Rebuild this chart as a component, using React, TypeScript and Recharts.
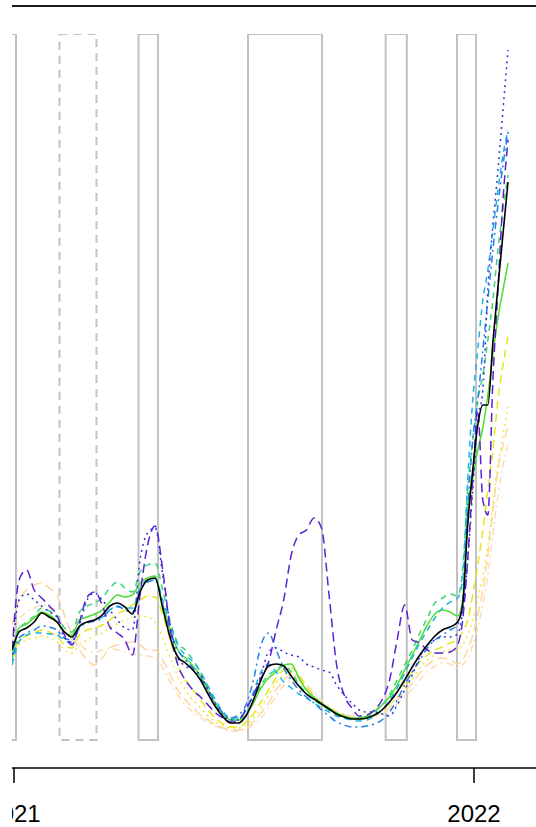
import React from 'react';
import { LineChart, Line, XAxis, YAxis, ReferenceArea } from 'recharts';

// day index counted from 2021-01-01
const days = [-1.5,4,10,16,22,28,34,40,46,52,58,64,70,76,82,88,94,100,106,112,118,124,130,136,142,148,154,160,166,172,178,184,190,196,202,208,214,220,226,232,238,244,250,256,262,268,274,280,286,292,298,304,310,316,322,328,334,340,346,352,356,360,364,368,372,376,380,384,388,392];

const tickDays = [0, 365];
const tickLabels = ['2021', '2022'];

// shaded periods (start day, end day), second one drawn dashed
const periodStart = [-10, 36.1, 98.8, 185.7, 294.9, 351.5];
const periodEnd = [1.6, 65.4, 114.3, 244.4, 311.7, 366.6];
const periodDashed = [false, true, false, false, false, false];

const total = [90,108,112,118,127,123,118,108,103,114,118,120,125,134,137,133,126,148,160,162,132,102,83,77,70,60,46,33,23,17,17,24,40,60,74,76,74,64,54,46,41,36,31,26,23,21,21,22,25,30,38,48,60,73,85,95,104,110,113,118,135,215,270,315,335,335,398,453,506,558];
const grpPurple = [90,160,170,150,142,134,125,105,95,118,143,148,135,113,107,100,85,145,195,214,170,110,75,60,50,43,35,27,22,18,20,30,45,62,78,110,140,185,205,210,222,212,145,75,45,32,24,25,30,40,60,100,135,100,97,90,87,87,88,95,120,180,260,330,240,225,360,450,540,600];
const grpBlue = [85,140,146,140,134,128,123,102,98,115,140,147,140,130,120,112,110,180,207,212,165,115,82,74,70,65,50,35,25,20,20,32,45,65,88,92,88,85,83,76,73,70,68,55,45,37,30,28,28,26,24,35,50,65,83,95,100,103,103,106,128,180,250,320,350,450,515,570,630,690];
const grpDodger = [80,102,107,110,114,113,110,102,100,112,117,119,122,130,134,130,128,150,158,160,135,108,90,80,72,62,50,37,27,22,25,35,60,95,107,90,72,60,50,43,37,30,24,18,15,13,13,14,16,20,28,40,55,68,80,92,100,105,110,115,140,230,300,340,390,440,490,535,575,608];
const grpCyan = [75,98,105,107,107,106,105,100,97,113,118,120,123,130,133,132,132,152,160,161,140,115,95,85,78,68,54,40,28,22,22,30,48,68,76,68,58,52,46,42,37,32,28,24,22,20,19,20,24,30,40,52,67,82,97,110,122,132,138,142,160,260,340,390,440,470,510,550,585,610];
const grpSpring = [82,110,118,124,132,129,124,112,108,128,134,137,142,152,158,152,148,168,175,177,150,118,97,90,80,68,52,37,26,20,20,26,40,55,65,70,75,68,56,47,40,35,30,25,22,21,21,23,28,35,45,60,75,90,107,122,137,142,146,144,170,250,300,340,365,400,440,490,530,565];
const grpGreen = [85,112,116,122,128,125,119,108,105,120,123,126,130,138,145,143,145,157,162,164,135,110,90,82,74,64,50,36,26,20,20,25,37,52,62,68,75,76,62,50,43,37,32,27,24,22,22,24,29,35,43,55,70,85,100,115,126,130,128,124,140,230,262,290,312,345,385,422,450,477];
const grpYellowDash = [80,100,104,107,110,108,104,95,92,105,110,112,115,120,126,130,135,140,144,143,125,100,75,60,50,40,30,22,16,13,13,18,26,38,50,62,70,72,65,52,43,36,31,27,24,22,21,22,25,30,38,48,58,68,78,85,90,93,97,100,108,120,145,175,210,250,290,340,375,403];
const grpYellowDot = [78,95,100,102,104,102,98,90,87,95,100,104,107,112,116,120,122,124,123,118,102,82,64,50,40,32,24,18,14,12,12,15,22,32,45,57,65,68,62,50,42,35,30,26,23,21,21,22,25,29,35,43,52,61,72,80,85,88,90,90,95,105,120,140,165,195,235,275,305,333];
const grpOrangeDash = [115,140,150,155,157,152,145,125,105,90,80,75,82,92,95,97,98,95,90,90,80,65,50,40,32,25,20,15,12,10,10,12,18,27,37,50,60,65,64,54,45,37,32,28,25,23,22,22,24,27,32,40,48,57,67,75,80,82,80,76,80,90,105,125,150,185,230,270,295,313];
const grpOrangeDotDash = [100,120,128,132,135,132,126,112,100,95,90,88,90,92,90,88,86,85,84,82,72,58,45,35,28,22,18,14,11,9,9,11,15,22,32,44,54,60,62,56,48,40,34,29,26,24,23,23,24,26,30,36,43,51,60,68,74,77,76,72,75,82,95,112,135,165,205,245,275,295];

const seriesKeys = ['orangeDotDash','orangeDash','yellowDot','yellowDash','green','spring','cyan','dodger','blue','purple','total'];
const seriesValues = [grpOrangeDotDash, grpOrangeDash, grpYellowDot, grpYellowDash, grpGreen, grpSpring, grpCyan, grpDodger, grpBlue, grpPurple, total];
const seriesColors = ['#F9DDB4','#FFD6A0','#EFE83C','#E6E61C','#4CDD30','#34D872','#1BB3E6','#1F80E6','#3434DC','#5A22D4','#000000'];
const seriesDash = ['2 4 7 4','10 5','2 4','8 5',undefined,'6 5','6 5','2 4 7 4','2 4','9 5',undefined];

const data = days.map((d, i) => {
  const row: Record<string, number> = { day: d };
  seriesKeys.forEach((k, j) => { row[k] = seriesValues[j][i]; });
  return row;
});

const FONT = '"Liberation Sans", Arial, Helvetica, sans-serif';

export default function App() {
  return (
    <div style={{ position: 'absolute', left: 0, top: 0, width: 536, height: 827, background: '#fff' }}>
      <div style={{ position: 'absolute', left: 12, top: 0, width: 524, height: 827, overflow: 'hidden' }}>
        <div style={{ position: 'absolute', left: 0, top: 5, width: 524, height: 2, background: '#1c1c1c' }} />
        <div style={{ position: 'absolute', left: -12, top: 0 }}>
          <LineChart width={536} height={827} data={data} margin={{ top: 34, right: 0, bottom: 0, left: 12 }}>
            <XAxis
              dataKey="day"
              type="number"
              domain={[-1.587, 414.2]}
              allowDataOverflow
              ticks={tickDays}
              interval={0}
              tickFormatter={(v: number) => tickLabels[tickDays.indexOf(v)]}
              tickSize={15}
              tickMargin={22}
              height={59}
              axisLine={{ stroke: '#000', strokeWidth: 1.5 }}
              tickLine={{ stroke: '#000', strokeWidth: 1.5 }}
              tick={{ fill: '#000', fontSize: 24, fontFamily: FONT }}
            />
            <YAxis hide type="number" domain={[-28, 706]} allowDataOverflow />
            {periodStart.map((s, i) => (
              <ReferenceArea
                key={'p' + i}
                x1={s}
                x2={periodEnd[i]}
                y1={0}
                y2={706}
                ifOverflow="hidden"
                fill="none"
                fillOpacity={0}
                stroke="#C2C2C2"
                strokeWidth={2}
                strokeDasharray={periodDashed[i] ? '8 6' : undefined}
              />
            ))}
            {seriesKeys.map((k, j) => (
              <Line
                key={k}
                dataKey={k}
                type="monotone"
                stroke={seriesColors[j]}
                strokeWidth={k === 'total' ? 1.6 : 1.5}
                strokeDasharray={seriesDash[j]}
                dot={false}
                activeDot={false}
                isAnimationActive={false}
              />
            ))}
          </LineChart>
        </div>
      </div>
    </div>
  );
}
